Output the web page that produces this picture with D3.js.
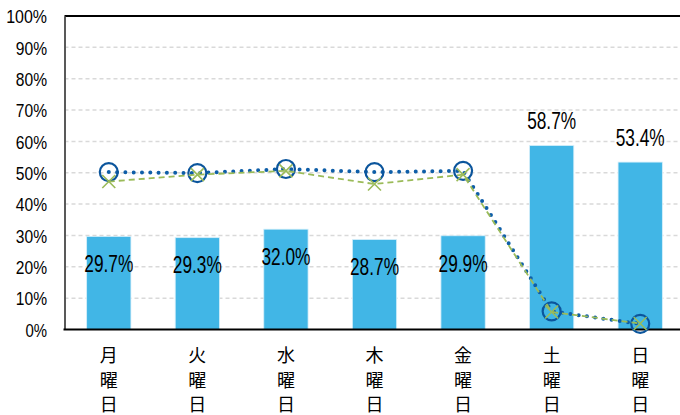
<!DOCTYPE html>
<html>
<head>
<meta charset="utf-8">
<script src="https://cdn.jsdelivr.net/npm/d3@7"></script>
<style>
  html, body { margin: 0; padding: 0; background: #ffffff; }
  svg { display: block; }
</style>
</head>
<body>
<svg id="chart" width="680" height="415"></svg>
<script>
// Day-of-week categories and series values (percent)
const days = ["月曜日", "火曜日", "水曜日", "木曜日", "金曜日", "土曜日", "日曜日"];
const barValues = [29.7, 29.3, 32.0, 28.7, 29.9, 58.7, 53.4];
const circleSeries = [50.2, 49.9, 51.2, 50.2, 50.6, 5.8, 1.8];
const crossSeries = [47.2, 49.4, 50.6, 46.4, 49.4, 5.6, 1.9];
const yTicks = [0, 10, 20, 30, 40, 50, 60, 70, 80, 90, 100];

const svg = d3.select("#chart");
const plot = { left: 64.5, right: 684.5, top: 16, bottom: 329.5 };

const x = d3.scaleBand().domain(days).range([plot.left, plot.right]).paddingInner(0.5).paddingOuter(0.25);
const y = d3.scaleLinear().domain([0, 100]).range([plot.bottom, plot.top]);
const cx = d => x(d) + x.bandwidth() / 2;

// horizontal dashed gridlines
svg.append("g")
  .selectAll("line")
  .data(yTicks.filter(t => t > 0 && t < 100))
  .join("line")
  .attr("x1", plot.left).attr("x2", plot.right)
  .attr("y1", d => y(d)).attr("y2", d => y(d))
  .attr("stroke", "#d9d9d9")
  .attr("stroke-width", 1.5)
  .attr("stroke-dasharray", "4,3");

// bars
svg.append("g")
  .selectAll("rect")
  .data(barValues)
  .join("rect")
  .attr("x", (d, i) => x(days[i]))
  .attr("width", x.bandwidth())
  .attr("y", d => y(d))
  .attr("height", d => y(0) - y(d))
  .attr("fill", "#41b6e6")
  .attr("stroke", "#d6effa")
  .attr("stroke-width", 0.8);

// frame: top line, left axis, baseline
svg.append("line")
  .attr("x1", plot.left).attr("x2", plot.right)
  .attr("y1", y(100)).attr("y2", y(100))
  .attr("stroke", "#000").attr("stroke-width", 2);

// y axis with percent tick labels
const yAxis = d3.axisLeft(y).tickValues(yTicks).tickSize(0).tickFormat(d => d + "%");
const gy = svg.append("g").attr("transform", `translate(${plot.left},0)`).call(yAxis);
gy.select(".domain").attr("stroke", "#595959").attr("stroke-width", 2);
gy.selectAll("text")
  .attr("x", -17.5)
  .attr("dy", "0.36em")
  .attr("fill", "#000")
  .style("font-family", "'Liberation Sans', Arial, sans-serif")
  .style("font-size", "18.5px")
  .attr("textLength", d => String(d).length * 9.6 + 12)
  .attr("lengthAdjust", "spacingAndGlyphs");

svg.append("line")
  .attr("x1", plot.left - 1).attr("x2", plot.right)
  .attr("y1", y(0)).attr("y2", y(0))
  .attr("stroke", "#000").attr("stroke-width", 2);

// category labels, one character per line
const xl = svg.append("g")
  .selectAll("text")
  .data(days)
  .join("text")
  .attr("text-anchor", "middle")
  .style("font-family", "'Noto Sans CJK JP', sans-serif")
  .style("font-size", "18px")
  .attr("fill", "#000");
xl.selectAll("tspan")
  .data(d => Array.from(d).map(ch => ({ ch, day: d })))
  .join("tspan")
  .attr("x", d => cx(d.day))
  .attr("y", (d, i) => 362 + i * 24.5)
  .text(d => d.ch);

// dotted line with circle markers
const line = d3.line().x((d, i) => cx(days[i])).y(d => y(d));
svg.append("path")
  .datum(circleSeries)
  .attr("d", line)
  .attr("fill", "none")
  .attr("stroke", "#0e5ea8")
  .attr("stroke-width", 4)
  .attr("stroke-linecap", "round")
  .attr("stroke-dasharray", "0,8.3");
svg.append("g")
  .selectAll("circle")
  .data(circleSeries)
  .join("circle")
  .attr("cx", (d, i) => cx(days[i]))
  .attr("cy", d => y(d))
  .attr("r", 9)
  .attr("fill", "none")
  .attr("stroke", "#0b559c")
  .attr("stroke-width", 2.2);

// dashed line with cross markers
svg.append("path")
  .datum(crossSeries)
  .attr("d", line)
  .attr("fill", "none")
  .attr("stroke", "#9bbb59")
  .attr("stroke-width", 1.8)
  .attr("stroke-dasharray", "6,4");
const cross = svg.append("g")
  .selectAll("g")
  .data(crossSeries)
  .join("g")
  .attr("transform", (d, i) => `translate(${cx(days[i])},${y(d)})`);
cross.append("path")
  .attr("d", "M-6.5,-6.5L6.5,6.5M-6.5,6.5L6.5,-6.5")
  .attr("stroke", "#9bbb59")
  .attr("stroke-width", 1.6)
  .attr("fill", "none");

// value labels: inside the bar top for weekdays, above the bar for the weekend
svg.append("g")
  .selectAll("text")
  .data(barValues)
  .join("text")
  .attr("x", (d, i) => cx(days[i]))
  .attr("y", (d, i) => i < 5 ? y(d) + 27.5 : y(d) - 24.5)
  .attr("dy", "0.36em")
  .attr("text-anchor", "middle")
  .style("font-family", "'Liberation Sans', Arial, sans-serif")
  .style("font-size", "23px")
  .attr("fill", "#000")
  .attr("textLength", 49)
  .attr("lengthAdjust", "spacingAndGlyphs")
  .text(d => d.toFixed(1) + "%");
</script>
</body>
</html>
